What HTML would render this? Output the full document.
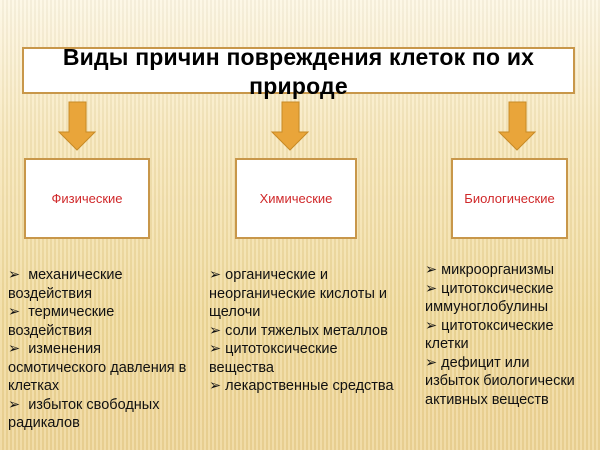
<!DOCTYPE html>
<html><head><meta charset="utf-8"><style>
body{margin:0;width:600px;height:450px;overflow:hidden;font-family:"Liberation Sans",sans-serif;
background:repeating-linear-gradient(90deg,rgba(255,255,255,0.18) 0 2px,rgba(0,0,0,0.03) 2px 4px),linear-gradient(180deg,#fdf6e2 0%,#f7e6b8 30%,#f0d998 70%,#eed494 100%);position:relative}
.box{position:absolute;background:#fff;border:2px solid #c8974a;box-sizing:border-box}
.t{position:absolute;left:22px;top:47px;width:553px;height:47px}
.tt{position:absolute;left:22px;top:43px;width:553px;font-weight:bold;font-size:23px;letter-spacing:0.2px;text-align:center;line-height:29px}
.sb{display:flex;align-items:center;justify-content:center;color:#d0282a;font-size:13px;top:158px;height:81px}
.col{position:absolute;font-size:14.5px;line-height:18.5px;color:#111}
</style></head><body>
<div class="box t"></div>
<div class="tt">Виды причин повреждения клеток по их<br>природе</div>
<svg width="600" height="450" style="position:absolute;left:0;top:0">
<g fill="#e9a53a" stroke="#c88a25" stroke-width="1">
<path d="M69 102h17v30h9l-18 18l-18-18h10z"/>
<path d="M282 102h17v30h9l-18 18l-18-18h10z"/>
<path d="M509 102h17v30h9l-18 18l-18-18h10z"/>
</g></svg>
<div class="box sb" style="left:24px;width:126px">Физические</div>
<div class="box sb" style="left:235px;width:122px">Химические</div>
<div class="box sb" style="left:451px;width:117px">Биологические</div>
<div class="col" style="left:8px;top:266px">➢&nbsp; механические<br>воздействия<br>➢&nbsp; термические<br>воздействия<br>➢&nbsp; изменения<br>осмотического давления в<br>клетках<br>➢&nbsp; избыток свободных<br>радикалов</div>
<div class="col" style="left:209px;top:266px">➢ органические и<br>неорганические кислоты и<br>щелочи<br>➢ соли тяжелых металлов<br>➢ цитотоксические<br>вещества<br>➢ лекарственные средства</div>
<div class="col" style="left:425px;top:261px">➢ микроорганизмы<br>➢ цитотоксические<br>иммуноглобулины<br>➢ цитотоксические<br>клетки<br>➢ дефицит или<br>избыток биологически<br>активных веществ</div>
</body></html>
